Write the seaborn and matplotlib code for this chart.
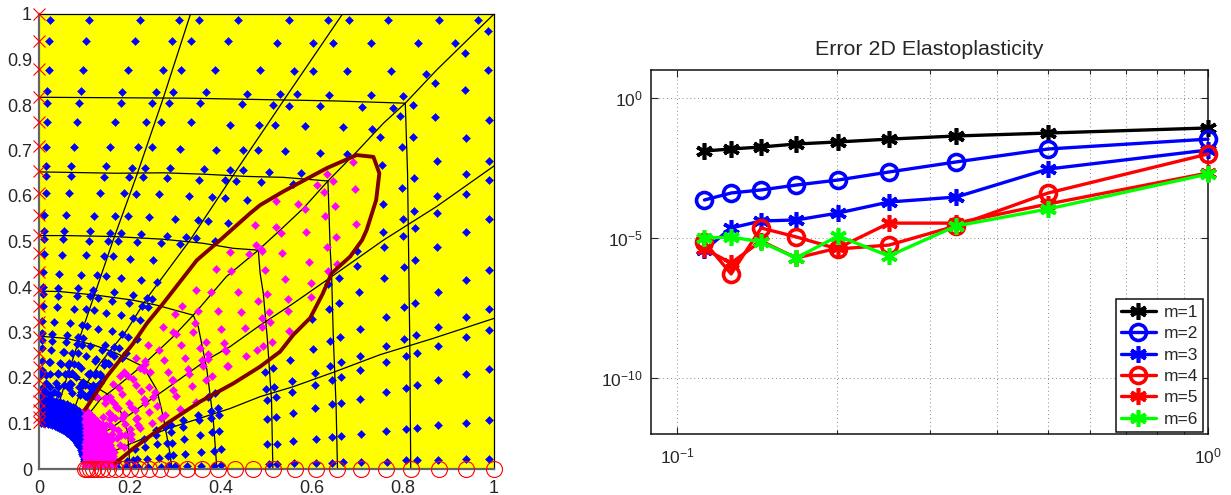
import numpy as np
import pandas as pd
import matplotlib
matplotlib.use("Agg")
import matplotlib.pyplot as plt
from matplotlib.patches import Wedge
import seaborn as sns

sns.set_style("ticks")
plt.rcParams['font.family'] = ['Liberation Sans', 'DejaVu Sans']
plt.rcParams['mathtext.default'] = 'regular'

# ---------- right panel data ----------
h_values = [1, 0.4999, 0.3354, 0.2507, 0.2011, 0.1677, 0.144, 0.1264, 0.1126]
err_m1 = [0.085, 0.056, 0.044, 0.034, 0.027, 0.0228, 0.0178, 0.0151, 0.0128]
err_m2 = [0.034, 0.0151, 5.2e-3, 2.28e-3, 1.18e-3, 7.8e-4, 5.2e-4, 4.05e-4, 2.28e-4]
err_m3 = [0.0139, 2.9e-3, 2.9e-4, 1.93e-4, 7.8e-5, 4.4e-5, 4.05e-5, 2.28e-5, 3.7e-6]
err_m4 = [0.01, 4.05e-4, 2.7e-5, 5.6e-6, 4.05e-6, 1.09e-5, 2.28e-5, 5.2e-7, 7.2e-6]
err_m5 = [2.1e-3, 1.64e-4, 3.4e-5, 3.4e-5, 4.4e-6, 1.93e-6, 7.8e-6, 1.28e-6, 4.05e-6]
err_m6 = [1.93e-3, 1.09e-4, 2.7e-5, 2.28e-6, 1.18e-5, 1.93e-6, 7.2e-6, 1.09e-5, 1e-5]
labels = ['m=1', 'm=2', 'm=3', 'm=4', 'm=5', 'm=6']
colors = ['#000000', '#0000ff', '#0000ff', '#ff0000', '#ff0000', '#00ff00']

# ---------- left panel data ----------
circle_x = [.101, .105, .112, .118, .127, .138, .152, .167, .182, .200, .220, .242, .266, .292, .325,
            .358, .393, .431, .470, .514, .563, .609, .655, .708, .763, .818, .879, .938, 1.0]
cross_y = [1.0, .941, .879, .818, .763, .710, .655, .607, .558, .514, .475, .433, .393, .358, .323,
           .290, .255, .224, .196, .171, .149, .130, .114, .103]

brown_curve = [(.167, .012), (.207, .045), (.281, .100), (.354, .148), (.427, .188), (.486, .225),
               (.530, .258), (.559, .295), (.596, .332), (.623, .384), (.643, .430), (.684, .467),
               (.710, .503), (.720, .525), (.741, .591), (.748, .650), (.735, .686), (.698, .690),
               (.632, .661), (.537, .610), (.486, .580), (.464, .562), (.398, .503), (.347, .459),
               (.273, .364), (.237, .320), (.207, .276), (.149, .203), (.101, .130)]

mesh_lines = [
    [(.333, 1), (.273, .815), (.215, .646), (.163, .503), (.123, .386), (.090, .29), (.064, .21), (.03, .10)],
    [(.667, 1), (.618, .928), (.541, .815), (.464, .701), (.427, .646), (.332, .503), (.237, .375),
     (.193, .305), (.134, .232), (.09, .166), (.06, .085)],
    [(1, 1), (.874, .877), (.805, .804), (.757, .76), (.698, .697), (.635, .633), (.581, .573), (.530, .525),
     (.482, .481), (.412, .423), (.339, .338), (.295, .291), (.229, .229), (.171, .181), (.134, .152), (.07, .07)],
    [(1, .666), (.874, .577), (.757, .503), (.632, .415), (.559, .364), (.486, .316), (.420, .269), (.369, .240),
     (.292, .185), (.229, .141), (.163, .093), (.09, .045)],
    [(1, .331), (.866, .287), (.749, .251), (.651, .214), (.559, .181), (.486, .159), (.42, .133), (.284, .089),
     (.2, .055), (.11, .015)],
    [(0, .817), (.325, .815), (.486, .812), (.647, .809), (.805, .804), (.810, .65), (.812, .503), (.815, .269), (.817, 0)],
    [(0, .653), (.171, .650), (.273, .651), (.361, .648), (.457, .643), (.537, .641), (.635, .633), (.640, .483),
     (.643, .430), (.647, .284), (.653, .137), (.656, 0)],
    [(0, .513), (.06, .513), (.163, .511), (.273, .505), (.361, .496), (.427, .485), (.482, .481), (.486, .43),
     (.493, .386), (.502, .284), (.511, .152), (.514, 0)],
    [(0, .391), (.046, .390), (.127, .382), (.207, .371), (.259, .360), (.339, .338), (.350, .313), (.369, .218),
     (.383, .108), (.391, 0)],
    [(0, .292), (.061, .287), (.119, .273), (.171, .254), (.229, .225), (.259, .174), (.273, .115), (.288, .034), (.292, 0)],
    [(0, .21), (.053, .207), (.105, .192), (.15, .165), (.18, .125), (.195, .08), (.2, 0)],
]

blue_pts = [
    (.024, .987), (.110, .987), (.222, .987), (.308, .987), (.352, .987), (.437, .987),
    (.021, .941), (.103, .941), (.210, .941), (.292, .941), (.334, .941), (.416, .941),
    (.021, .878), (.097, .878), (.195, .878), (.272, .878), (.313, .876), (.387, .876), (.486, .876),
    (.018, .831), (.092, .831), (.183, .828), (.257, .828), (.295, .828), (.366, .828), (.457, .825),
    (.018, .804), (.089, .804), (.180, .804), (.248, .804), (.286, .804), (.354, .804), (.446, .802),
    (.018, .763), (.084, .763), (.168, .763), (.236, .763), (.268, .763), (.334, .763), (.420, .757), (.484, .757),
    (.015, .707), (.077, .707), (.156, .707), (.218, .707), (.248, .707), (.310, .703), (.390, .701), (.448, .701), (.481, .701),
    (.015, .666), (.070, .666), (.147, .666), (.204, .662), (.233, .662), (.289, .662), (.362, .659), (.420, .657), (.448, .657),
    (.015, .644), (.070, .644), (.142, .642), (.198, .642), (.228, .642), (.281, .640), (.352, .635), (.408, .635), (.434, .633),
    (.015, .607), (.065, .607), (.133, .607), (.187, .607), (.213, .604), (.263, .604), (.330, .601), (.380, .598), (.408, .595), (.457, .591),
    (.012, .559), (.059, .559), (.121, .557), (.168, .557), (.196, .557), (.241, .554), (.300, .550), (.349, .547), (.371, .545), (.416, .541),
    (.012, .522), (.056, .522), (.112, .522), (.156, .519), (.180, .519), (.224, .516), (.281, .513), (.322, .510), (.344, .507),
    (.012, .505), (.052, .505), (.110, .502), (.151, .502), (.174, .502), (.215, .499), (.268, .496), (.310, .494), (.387, .502),
    # upper right
    (.965, .987), (.880, .987), (.767, .987), (.681, .987), (.635, .987), (.549, .987), (.987, .963),
    (.523, .937), (.602, .937), (.646, .937), (.730, .937), (.833, .937), (.915, .937), (.936, .914),
    (.560, .875), (.602, .875), (.677, .875), (.774, .875), (.851, .868), (.871, .848), (.987, .878), (.936, .833),
    (.529, .824), (.567, .824), (.637, .822), (.730, .822), (.800, .819),
    (.514, .801), (.549, .798), (.618, .798), (.709, .796), (.777, .793), (.821, .801),
    (.519, .757), (.585, .754), (.668, .752), (.732, .748), (.794, .775), (.871, .774), (.989, .766),
    (.749, .730), (.821, .730), (.939, .727), (.798, .708),
    (.541, .698), (.618, .695), (.677, .692), (.753, .668), (.875, .677), (.989, .678), (.939, .648), (.989, .635), (.824, .640),
    (.505, .653), (.576, .651), (.488, .630), (.558, .626), (.798, .618), (.875, .600), (.939, .604), (.756, .582),
    (.824, .568), (.875, .563), (.989, .550), (.800, .550), (.827, .530), (.756, .521), (.800, .512), (.939, .521), (.758, .488), (.875, .488),
    # lower right
    (.699, .480), (.826, .459), (.803, .444), (.700, .447), (.758, .420), (.659, .420), (.635, .407), (.938, .415), (.989, .437),
    (.877, .388), (.703, .388), (.659, .365), (.826, .365), (.803, .356), (.637, .352), (.989, .352), (.938, .334), (.762, .334),
    (.599, .329), (.877, .311), (.705, .308), (.989, .305), (.829, .294), (.938, .290), (.662, .290), (.803, .285), (.640, .282),
    (.762, .270), (.877, .270), (.602, .264), (.705, .249), (.830, .255), (.806, .249), (.552, .240), (.762, .235), (.664, .235),
    (.640, .226), (.514, .223), (.497, .214), (.705, .217), (.938, .208), (.989, .220), (.606, .211), (.664, .202), (.643, .196),
    (.877, .196), (.556, .193), (.830, .185), (.606, .185), (.806, .178), (.517, .181), (.499, .176), (.556, .169), (.762, .169),
    (.520, .158), (.502, .152), (.705, .154), (.664, .145), (.643, .143), (.606, .134), (.558, .123), (.520, .114), (.502, .110),
    (.938, .101), (.989, .108), (.877, .096), (.830, .090), (.806, .087), (.762, .084), (.708, .078), (.664, .073), (.643, .070),
    (.609, .066), (.558, .061), (.523, .055), (.502, .055), (.989, .022), (.938, .022), (.877, .020), (.830, .020), (.806, .020),
    (.765, .015), (.708, .015), (.668, .015), (.643, .013), (.609, .013), (.560, .013), (.523, .010), (.506, .010),
    # lower middle
    (.387, .167), (.371, .158), (.393, .134), (.379, .127), (.396, .119), (.379, .112), (.349, .119), (.351, .108), (.316, .108),
    (.316, .092), (.290, .097), (.277, .092), (.290, .081), (.257, .086), (.257, .075), (.231, .067), (.354, .075), (.380, .081),
    (.396, .084), (.319, .066), (.281, .057), (.292, .057), (.259, .055), (.233, .048), (.211, .044), (.400, .043), (.385, .040),
    (.356, .037), (.321, .033), (.295, .031), (.283, .029), (.264, .024), (.237, .022), (.215, .022), (.206, .020), (.193, .018),
    (.400, .009), (.385, .007), (.356, .007), (.325, .007), (.299, .007), (.286, .007), (.268, .004), (.239, .004), (.217, .004),
    (.209, .004), (.191, .004), (.171, .004), (.171, .015),
    # left middle
    (.012, .473), (.050, .470), (.103, .470), (.143, .468), (.163, .468), (.200, .462), (.251, .459),
    (.009, .433), (.044, .429), (.092, .426), (.127, .426), (.147, .424), (.180, .420), (.224, .415), (.259, .411),
    (.009, .400), (.042, .398), (.086, .398), (.119, .393), (.165, .389), (.207, .382), (.237, .376), (.248, .374),
    (.009, .385), (.042, .380), (.084, .380), (.112, .380), (.130, .376), (.160, .369), (.198, .365), (.226, .358), (.240, .356),
    (.009, .358), (.039, .356), (.077, .352), (.103, .352), (.121, .349), (.147, .343), (.180, .338), (.207, .332), (.222, .327),
    (.007, .325), (.033, .323), (.068, .321), (.095, .316), (.105, .314), (.130, .308), (.160, .303), (.182, .297), (.196, .290), (.215, .286),
    (.007, .299), (.029, .297), (.061, .295), (.086, .290), (.097, .288), (.112, .270), (.145, .273), (.165, .268), (.176, .266), (.191, .255),
    (.007, .284), (.029, .281), (.059, .279), (.084, .275), (.095, .273),
    (.007, .266), (.026, .262), (.053, .257), (.073, .255), (.086, .255), (.103, .248), (.138, .262), (.156, .255), (.165, .248), (.182, .244),
    (.007, .237), (.024, .235), (.048, .231), (.064, .229), (.077, .231), (.092, .222), (.123, .237), (.145, .235), (.154, .231), (.112, .209),
    (.007, .218), (.004, .207), (.024, .209), (.042, .209), (.057, .209), (.066, .209), (.081, .202), (.108, .209), (.123, .207), (.136, .204), (.143, .229),
    (.007, .177), (.024, .181), (.042, .181), (.006, .163), (.024, .163), (.042, .165), (.072, .166), (.090, .163), (.112, .181),
    (.119, .181), (.134, .188), (.068, .188), (.094, .188), (.106, .159), (.119, .163),
    # cluster above the packed ring
    (.054, .258), (.023, .236), (.046, .232), (.065, .232), (.085, .229), (.125, .241), (.151, .232),
    (.015, .207), (.041, .210), (.063, .210), (.073, .212), (.111, .210), (.125, .210), (.133, .209),
    (.015, .190), (.037, .188), (.056, .185), (.070, .187), (.096, .192), (.102, .185), (.118, .185), (.125, .181),
    (.015, .170), (.034, .170), (.067, .177), (.089, .181), (.092, .170), (.118, .174), (.111, .166), (.100, .160), (.122, .160),
]

magenta_pts = [
    (.691, .675), (.632, .648), (.646, .633), (.611, .624), (.627, .609), (.695, .615), (.520, .589), (.569, .582), (.585, .571),
    (.650, .577), (.629, .556), (.697, .538), (.475, .536), (.520, .532), (.531, .519), (.587, .521), (.653, .509), (.632, .489),
    (.478, .492), (.488, .483),
    (.490, .479), (.534, .474), (.594, .455), (.656, .451), (.636, .435), (.496, .437), (.541, .418), (.597, .409), (.502, .385),
    (.547, .374), (.597, .379), (.547, .347), (.505, .344), (.508, .323), (.490, .332), (.490, .311), (.550, .303), (.511, .279), (.493, .270),
    (.301, .297), (.339, .301), (.367, .279), (.407, .276), (.411, .259), (.240, .273), (.264, .262), (.312, .273), (.275, .239),
    (.321, .244), (.371, .253), (.358, .239), (.234, .230), (.222, .222), (.187, .213), (.245, .213), (.283, .213), (.328, .220),
    (.330, .209), (.380, .204), (.414, .226), (.196, .204), (.207, .198), (.292, .195), (.367, .195), (.242, .181), (.213, .185),
    (.295, .174), (.336, .182), (.163, .187), (.175, .177), (.224, .172), (.255, .170), (.251, .158), (.301, .160), (.182, .164),
    (.198, .146), (.231, .154), (.233, .145), (.345, .147), (.260, .138), (.310, .132), (.156, .159), (.145, .156), (.165, .146),
    (.169, .137), (.202, .136), (.211, .130), (.242, .125), (.277, .119), (.269, .111), (.214, .109), (.248, .101), (.187, .121),
    (.182, .112), (.222, .090), (.202, .077), (.202, .065), (.180, .075), (.161, .066), (.187, .048), (.165, .037), (.156, .097),
    (.156, .110), (.161, .116), (.163, .091), (.141, .114), (.147, .097),
    (.420, .478), (.462, .473), (.389, .439), (.423, .436), (.345, .393), (.377, .390), (.438, .388), (.314, .359), (.349, .348),
    (.393, .348), (.445, .344), (.481, .370), (.299, .341), (.273, .311), (.295, .302), (.343, .320), (.401, .307), (.453, .309),
    (.354, .267), (.409, .262), (.480, .262), (.456, .248), (.372, .241), (.361, .226), (.416, .226), (.213, .245), (.233, .238),
    (.231, .218), (.295, .196), (.178, .204),
    # clumps beside the packed ring
    (.127, .159), (.145, .144), (.156, .154), (.174, .133), (.186, .119), (.215, .111), (.153, .122), (.167, .111), (.189, .100),
    (.218, .097), (.174, .086), (.200, .089), (.171, .069), (.189, .075), (.160, .078), (.178, .053), (.156, .053), (.163, .037), (.138, .100),
]

# the packed ring next to the quarter circle, read as radii and angles (degrees)
dense_r = [.101, .105, .110, .115, .120, .125, .130, .135, .140, .145, .150, .155]
dense_theta = [1, 4, 7, 10, 13, 16, 19, 22, 25, 28, 31, 34, 37, 40, 43, 46, 49, 52, 55, 58, 61,
               64, 67, 70, 73, 76, 79, 82, 85, 88]
magenta_r = [.101, .105, .110, .115, .120, .125, .130, .135, .140, .145, .150, .155, .160, .165]
magenta_theta = [1, 4, 7, 10, 13, 16, 19, 22, 25, 28, 31, 34, 37, 40, 43, 46, 49, 52, 55]

# ---------- figure ----------
fig = plt.figure(figsize=(12.31, 4.95), dpi=100)
ax = fig.add_axes([39 / 1231, 26 / 495, 455 / 1231, 455 / 495])
ax.set_facecolor('#ffff00')
ax.add_patch(Wedge((0, 0), .1, 0, 90, fc='white', ec='none', zorder=1))


def xy(pts):
    a = np.array(pts, dtype=float)
    return a[:, 0], a[:, 1]


for seg in mesh_lines:
    sx, sy = xy(seg)
    sns.lineplot(x=sx, y=sy, sort=False, estimator=None, color='#000000', lw=0.9, ax=ax, zorder=2)

bx, by = xy(blue_pts)
mx, my = xy(magenta_pts)
rr, tt = np.meshgrid(dense_r, np.deg2rad(dense_theta))
dx, dy = (rr * np.cos(tt)).ravel(), (rr * np.sin(tt)).ravel()
is_blue = dx < .1
sns.scatterplot(x=np.r_[bx, dx[is_blue]], y=np.r_[by, dy[is_blue]], marker='D', s=17, color='#0000ff',
                edgecolor='#0000ff', linewidth=0.3, ax=ax, zorder=3)
mag_r, mag_t = np.meshgrid(magenta_r, np.deg2rad(magenta_theta))
ex, ey = (mag_r * np.cos(mag_t)).ravel(), (mag_r * np.sin(mag_t)).ravel()
keep = ex >= .1
sns.scatterplot(x=np.r_[mx, ex[keep]], y=np.r_[my, ey[keep]], marker='D', s=17, color='#ff00ff',
                edgecolor='#ff00ff', linewidth=0.3, ax=ax, zorder=3)

cx, cy = xy(brown_curve)
sns.lineplot(x=cx, y=cy, sort=False, estimator=None, color='#7f0000', lw=2.8, ax=ax, zorder=4)

sns.lineplot(x=circle_x, y=[0] * len(circle_x), sort=False, estimator=None, lw=0, marker='o', ms=11.5,
             markerfacecolor='none', markeredgecolor='#ff0000', markeredgewidth=0.8, clip_on=False, ax=ax, zorder=5)
sns.lineplot(x=[0] * len(cross_y), y=cross_y, sort=False, estimator=None, lw=0, marker='x', ms=9,
             markerfacecolor='none', markeredgecolor='#ff0000', markeredgewidth=0.8, clip_on=False, ax=ax, zorder=5)

ax.set_xlim(0, 1)
ax.set_ylim(0, 1)
ax.set_xticks([0, .2, .4, .6, .8, 1])
ax.set_xticklabels(['0', '0.2', '0.4', '0.6', '0.8', '1'])
ax.set_yticks(np.arange(0, 11) / 10)
ax.set_yticklabels(['0', '0.1', '0.2', '0.3', '0.4', '0.5', '0.6', '0.7', '0.8', '0.9', '1'])
ax.tick_params(axis='x', direction='in', length=0, labelsize=13, pad=8, colors='#262626')
ax.tick_params(axis='y', direction='in', length=0, labelsize=13, pad=5, colors='#262626')
for s in ['top', 'right']:
    ax.spines[s].set_color('black')
    ax.spines[s].set_linewidth(0.9)
for s in ['left', 'bottom']:
    ax.spines[s].set_color('#666666')
    ax.spines[s].set_linewidth(1.6)
for s in ax.spines.values():
    s.set_zorder(4.5)

# ---------- right panel ----------
ax2 = fig.add_axes([651 / 1231, 61 / 495, 557 / 1231, 364 / 495])
ax2.set_xscale('log')
ax2.set_yscale('log')
series = [err_m1, err_m2, err_m3, err_m4, err_m5, err_m6]
star = (6, 2, 0)
markers = [star, 'o', star, 'o', star, star]
for vals, lab, col, mk in zip(series, labels, colors, markers):
    df = pd.DataFrame({'h': h_values, 'err': vals})
    sns.lineplot(data=df, x='h', y='err', sort=False, estimator=None, color=col, lw=2.4, marker=mk,
                 ms=11.5 if mk == 'o' else 12, markerfacecolor='none', markeredgecolor=col, markeredgewidth=2.6,
                 label=lab, clip_on=False, ax=ax2, zorder=3)

ax2.set_xlim(0.0893, 1)
ax2.set_ylim(1e-12, 1e1)
ax2.set_xlabel('')
ax2.set_ylabel('')
ax2.set_title('Error 2D Elastoplasticity', fontsize=15.4, color='#262626', pad=11)
ax2.set_yticks([1e0, 1e-5, 1e-10])
ax2.set_yticklabels(['$10^{0}$', '$10^{-5}$', '$10^{-10}$'])
ax2.yaxis.set_minor_locator(matplotlib.ticker.NullLocator())
ax2.set_xticks([0.1, 1])
ax2.set_xticklabels(['$10^{-1}$', '$10^{0}$'])
ax2.set_xticks([.2, .3, .4, .5, .6, .7, .8, .9], minor=True)
ax2.xaxis.set_minor_formatter(matplotlib.ticker.NullFormatter())
ax2.grid(True, which='major', linestyle=(0, (1, 3)), linewidth=0.7, color='#8a8a8a')
ax2.grid(True, which='minor', axis='x', linestyle=(0, (1, 3)), linewidth=0.7, color='#8a8a8a')
ax2.tick_params(axis='both', which='both', direction='in', top=True, right=True, bottom=True, left=True,
                colors='#262626')
ax2.tick_params(which='major', length=5, width=0.8, labelsize=12.5, pad=6)
ax2.tick_params(axis='x', which='major', pad=9)
ax2.tick_params(which='minor', length=3, width=0.8)
for s in ax2.spines.values():
    s.set_color('#111111')
    s.set_linewidth(1.1)

leg = ax2.legend(loc='lower right', bbox_to_anchor=(0.9915, 0.0055), fontsize=12.5, frameon=True,
                 fancybox=False, framealpha=1, edgecolor='#111111', facecolor='white', handlelength=2.0,
                 labelspacing=0.36, handletextpad=0.45, borderpad=0.3, borderaxespad=0.0)
leg.get_frame().set_linewidth(1.1)

fig.savefig('out.png', dpi=100)
